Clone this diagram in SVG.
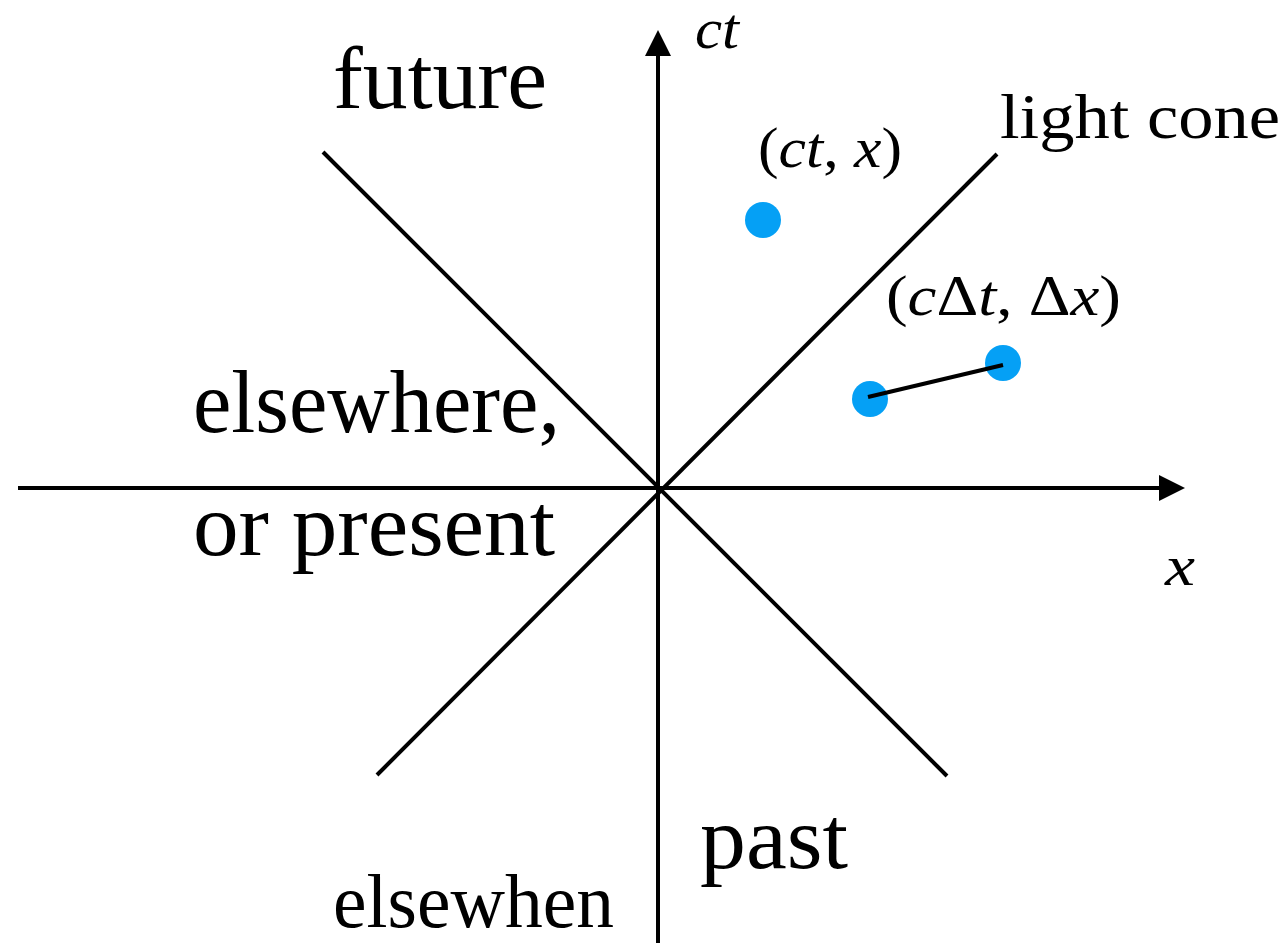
<svg xmlns="http://www.w3.org/2000/svg" width="1288" height="943" viewBox="0 0 1288 943">
<style>
.ln{stroke:#000;stroke-width:4;fill:none}
.ax{stroke:#000;stroke-width:4;fill:none}
.lbl{font-family:"Liberation Serif","DejaVu Serif",serif;fill:#000}
.it{font-style:italic}
.dot{fill:#05a0f5}
</style>
<defs>
<marker id="ah" markerUnits="userSpaceOnUse" markerWidth="26" markerHeight="26" refX="2" refY="13" orient="auto">
<path d="M0,0 L26,13 L0,26 Z" fill="#000"/>
</marker>
</defs>
<rect width="1288" height="943" fill="#fff"/>
<g id="connectors">
<line class="ax" x1="18" y1="488" x2="1161" y2="488" marker-end="url(#ah)"/>
<line class="ax" x1="658" y1="943" x2="658" y2="54" marker-end="url(#ah)"/>
<line class="ln" x1="323" y1="152" x2="947" y2="776"/>
<line class="ln" x1="997" y1="154" x2="377" y2="775"/>
</g>
<g id="event">
<circle class="dot" cx="763" cy="220" r="18"/>
<text class="lbl" x="758" y="167" font-size="56" textLength="144" lengthAdjust="spacingAndGlyphs">(<tspan class="it">ct</tspan>, <tspan class="it">x</tspan>)</text>
</g>
<g id="interval">
<circle class="dot" cx="870" cy="399" r="18"/>
<circle class="dot" cx="1003" cy="363" r="18"/>
<line class="ax" x1="868" y1="397" x2="1003" y2="365"/>
<text class="lbl" x="886" y="315" font-size="56" textLength="235" lengthAdjust="spacingAndGlyphs">(<tspan class="it">c</tspan>Δ<tspan class="it">t</tspan>, Δ<tspan class="it">x</tspan>)</text>
</g>
<g id="axis-ct"><text class="lbl it" x="695" y="48" font-size="56" textLength="44" lengthAdjust="spacingAndGlyphs">ct</text></g>
<g id="axis-x"><text class="lbl it" x="1165" y="585" font-size="58" textLength="30" lengthAdjust="spacingAndGlyphs">x</text></g>
<g id="future"><text class="lbl" x="333" y="108" font-size="88" textLength="214" lengthAdjust="spacingAndGlyphs">future</text></g>
<g id="light-cone"><text class="lbl" x="1000" y="138" font-size="64" textLength="280" lengthAdjust="spacingAndGlyphs">light cone</text></g>
<g id="elsewhere">
<text class="lbl" x="193" y="432" font-size="88" textLength="367" lengthAdjust="spacingAndGlyphs">elsewhere,</text>
<text class="lbl" x="193" y="555" font-size="88" textLength="362" lengthAdjust="spacingAndGlyphs">or present</text>
</g>
<g id="past"><text class="lbl" x="700" y="868" font-size="88" textLength="148" lengthAdjust="spacingAndGlyphs">past</text></g>
<g id="elsewhen"><text class="lbl" x="333" y="927" font-size="77" textLength="281" lengthAdjust="spacingAndGlyphs">elsewhen</text></g>
</svg>
